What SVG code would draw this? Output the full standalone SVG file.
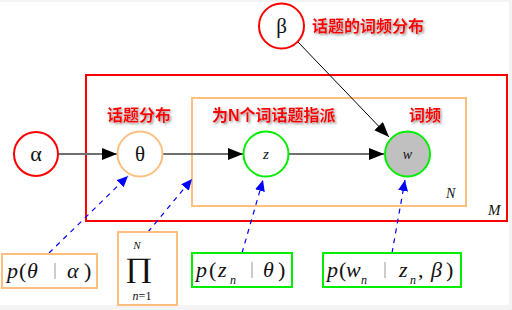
<svg xmlns="http://www.w3.org/2000/svg" width="512" height="310" viewBox="0 0 512 310">
<defs>
<style>
.lbl{font-family:"Liberation Sans","Noto Sans CJK SC",sans-serif;font-weight:bold;font-size:16px;fill:#ff0000;filter:url(#sh)}
.m{font-family:"Liberation Serif","DejaVu Serif",serif;fill:#111}
.i{font-style:italic}
.bar{stroke:#999;stroke-width:1}
.conn{stroke:#707070;stroke-width:2;fill:none}
.dash{stroke:#0000ff;stroke-width:1.2;stroke-dasharray:5 5;fill:none}
</style>
<filter id="sh" x="-10%" y="-30%" width="130%" height="170%">
<feDropShadow dx="1.5" dy="1.5" stdDeviation="0.8" flood-color="#777" flood-opacity="0.8"/>
</filter>
<marker id="ab" markerUnits="userSpaceOnUse" markerWidth="16" markerHeight="12" refX="15" refY="6" orient="auto">
<path d="M0,0 L15,6 L0,12 Z" fill="#000"/>
</marker>
<marker id="ablue" markerUnits="userSpaceOnUse" markerWidth="12" markerHeight="10" refX="11" refY="5" orient="auto">
<path d="M0,0 L11,5 L0,10 Z" fill="#0000ff"/>
</marker>
</defs>
<rect width="512" height="310" fill="#f3f3f3"/>
<rect x="0" y="2" width="509" height="303" fill="#fff"/>

<g id="plate-M">
<rect x="86" y="75" width="421" height="146" fill="none" stroke="#ff0000" stroke-width="2"/>
<text class="m i" x="488" y="215" font-size="15">M</text>
</g>
<g id="plate-N">
<rect x="192" y="98" width="274" height="108" fill="none" stroke="#fdbf80" stroke-width="2"/>
<text class="m i" x="446" y="198" font-size="14">N</text>
</g>

<g id="connectors">
<line class="conn" x1="59" y1="154" x2="117" y2="154" marker-end="url(#ab)"/>
<line class="conn" x1="163" y1="154" x2="243" y2="154" marker-end="url(#ab)"/>
<line class="conn" x1="289" y1="154" x2="384" y2="154" marker-end="url(#ab)"/>
<line x1="298" y1="42" x2="389" y2="137" stroke="#000" stroke-width="1" marker-end="url(#ab)"/>
<line class="dash" x1="49" y1="253" x2="128" y2="176" marker-end="url(#ablue)"/>
<line class="dash" x1="148" y1="232" x2="192" y2="179" marker-end="url(#ablue)"/>
<line class="dash" x1="242" y1="253" x2="263" y2="180" marker-end="url(#ablue)"/>
<line class="dash" x1="392" y1="253" x2="405" y2="180" marker-end="url(#ablue)"/>
</g>

<g id="alpha">
<circle cx="36" cy="154" r="22" fill="#fff" stroke="#ff0000" stroke-width="2"/>
<text class="m" x="36" y="161" font-size="22" text-anchor="middle">α</text>
</g>
<g id="theta">
<circle cx="140" cy="154" r="22.5" fill="#fff" stroke="#fdbf80" stroke-width="2"/>
<text class="m" x="140" y="161" font-size="21" text-anchor="middle">θ</text>
<text class="lbl" x="107" y="121">话题分布</text>
</g>
<g id="z">
<circle cx="266" cy="154" r="22.5" fill="#fff" stroke="#00ee00" stroke-width="2"/>
<text class="m i" x="266" y="159" font-size="15" text-anchor="middle">z</text>
<text class="lbl" x="212" y="121">为N个词话题指派</text>
</g>
<g id="w">
<circle cx="407.5" cy="154" r="22.5" fill="#c0c0c0" stroke="#00ee00" stroke-width="2"/>
<text class="m i" x="407.5" y="159" font-size="14" text-anchor="middle">w</text>
<text class="lbl" x="409" y="121">词频</text>
</g>
<g id="beta">
<circle cx="281.5" cy="26" r="22.5" fill="#fff" stroke="#ff0000" stroke-width="2"/>
<text class="m" x="281.5" y="33" font-size="21" text-anchor="middle">β</text>
<text class="lbl" x="312" y="32">话题的词频分布</text>
</g>

<g id="p-theta">
<rect x="2" y="254" width="95" height="34" fill="#fff" stroke="#fdbf80" stroke-width="2"/>
<text class="m" font-size="22" y="278"><tspan class="i" x="7">p</tspan><tspan x="19">(</tspan><tspan class="i" x="27">θ</tspan><tspan class="i" x="67">α</tspan><tspan x="84">)</tspan></text>
<line class="bar" x1="55" y1="263" x2="55" y2="279"/>
</g>
<g id="product">
<rect x="118" y="232" width="59" height="73" fill="#fff" stroke="#fdbf80" stroke-width="2"/>
<text class="m i" x="137" y="249" font-size="11" text-anchor="middle">N</text>
<text class="m" font-size="28" text-anchor="middle" transform="translate(138.5 277) scale(1.2 1)">∏</text>
<text class="m" x="142" y="300" font-size="12" text-anchor="middle"><tspan class="i">n</tspan>=1</text>
</g>
<g id="p-z">
<rect x="192" y="253" width="100" height="34" fill="#fff" stroke="#00ee00" stroke-width="2"/>
<text class="m" font-size="22" y="277"><tspan class="i" x="196">p</tspan><tspan x="209">(</tspan><tspan class="i" x="218">z</tspan><tspan class="i" x="263">θ</tspan><tspan x="278">)</tspan></text>
<text class="m i" x="230" y="284" font-size="12">n</text>
<line class="bar" x1="252" y1="262" x2="252" y2="278"/>
</g>
<g id="p-w">
<rect x="323" y="253" width="138" height="34" fill="#fff" stroke="#00ee00" stroke-width="2"/>
<text class="m" font-size="22" y="277"><tspan class="i" x="327">p</tspan><tspan x="339">(</tspan><tspan class="i" x="346">w</tspan><tspan class="i" x="399">z</tspan><tspan x="418">,</tspan><tspan class="i" x="431">β</tspan><tspan x="446">)</tspan></text>
<text class="m i" x="361" y="284" font-size="12">n</text>
<text class="m i" x="410" y="284" font-size="12">n</text>
<line class="bar" x1="385" y1="262" x2="385" y2="278"/>
</g>
</svg>
